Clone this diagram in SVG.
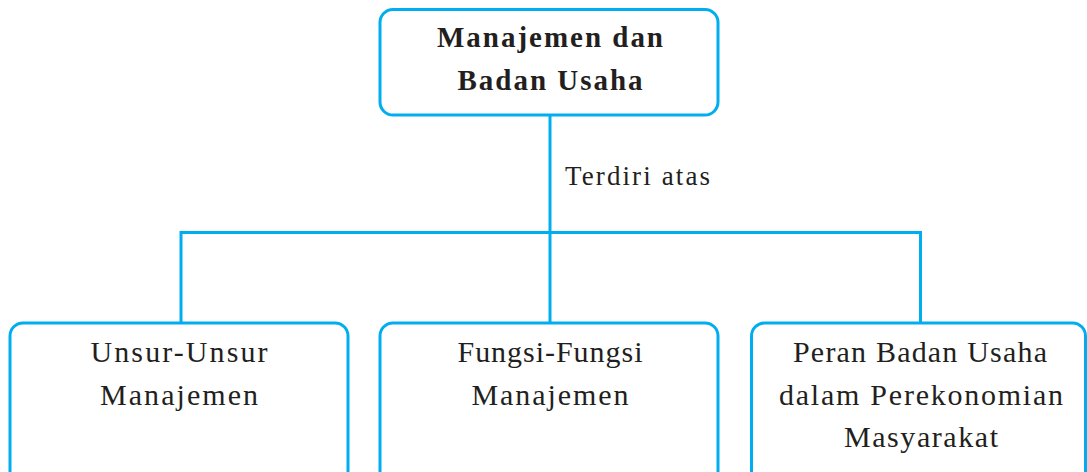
<svg xmlns="http://www.w3.org/2000/svg" width="1087" height="472" viewBox="0 0 1087 472">
<style>
.box{fill:#fff;stroke:#00AEEF;stroke-width:3}
.con{fill:none;stroke:#00AEEF;stroke-width:3}
text{font-family:"Liberation Serif","DejaVu Serif",serif;fill:#231F20;text-anchor:middle}
.t{font-size:30px}
.b{font-size:29px;font-weight:bold}
.l{font-size:27px;text-anchor:start}
</style>
<rect width="1087" height="472" fill="#fff"/>
<g id="connectors">
<line class="con" x1="550" y1="115" x2="550" y2="322"/>
<polyline class="con" points="181,322 181,232.5 920.5,232.5 920.5,322"/>
<text class="l" x="565" y="185" textLength="145" lengthAdjust="spacing">Terdiri atas</text>
</g>
<g id="root">
<rect class="box" x="380" y="9.5" width="338" height="105.5" rx="13"/>
<text class="b" x="550" y="47" textLength="226" lengthAdjust="spacing">Manajemen dan</text>
<text class="b" x="550" y="90" textLength="185" lengthAdjust="spacing">Badan Usaha</text>
</g>
<g id="unsur">
<rect class="box" x="10" y="323" width="338" height="170" rx="13"/>
<text class="t" x="179" y="362" textLength="177" lengthAdjust="spacing">Unsur-Unsur</text>
<text class="t" x="179" y="405" textLength="158" lengthAdjust="spacing">Manajemen</text>
</g>
<g id="fungsi">
<rect class="box" x="380" y="323" width="338" height="170" rx="13"/>
<text class="t" x="550" y="362" textLength="185" lengthAdjust="spacing">Fungsi-Fungsi</text>
<text class="t" x="550" y="405" textLength="157" lengthAdjust="spacing">Manajemen</text>
</g>
<g id="peran">
<rect class="box" x="751.5" y="323" width="334" height="170" rx="13"/>
<text class="t" x="920" y="362" textLength="254" lengthAdjust="spacing">Peran Badan Usaha</text>
<text class="t" x="921" y="405" textLength="284" lengthAdjust="spacing">dalam Perekonomian</text>
<text class="t" x="921" y="447" textLength="154" lengthAdjust="spacing">Masyarakat</text>
</g>
</svg>
